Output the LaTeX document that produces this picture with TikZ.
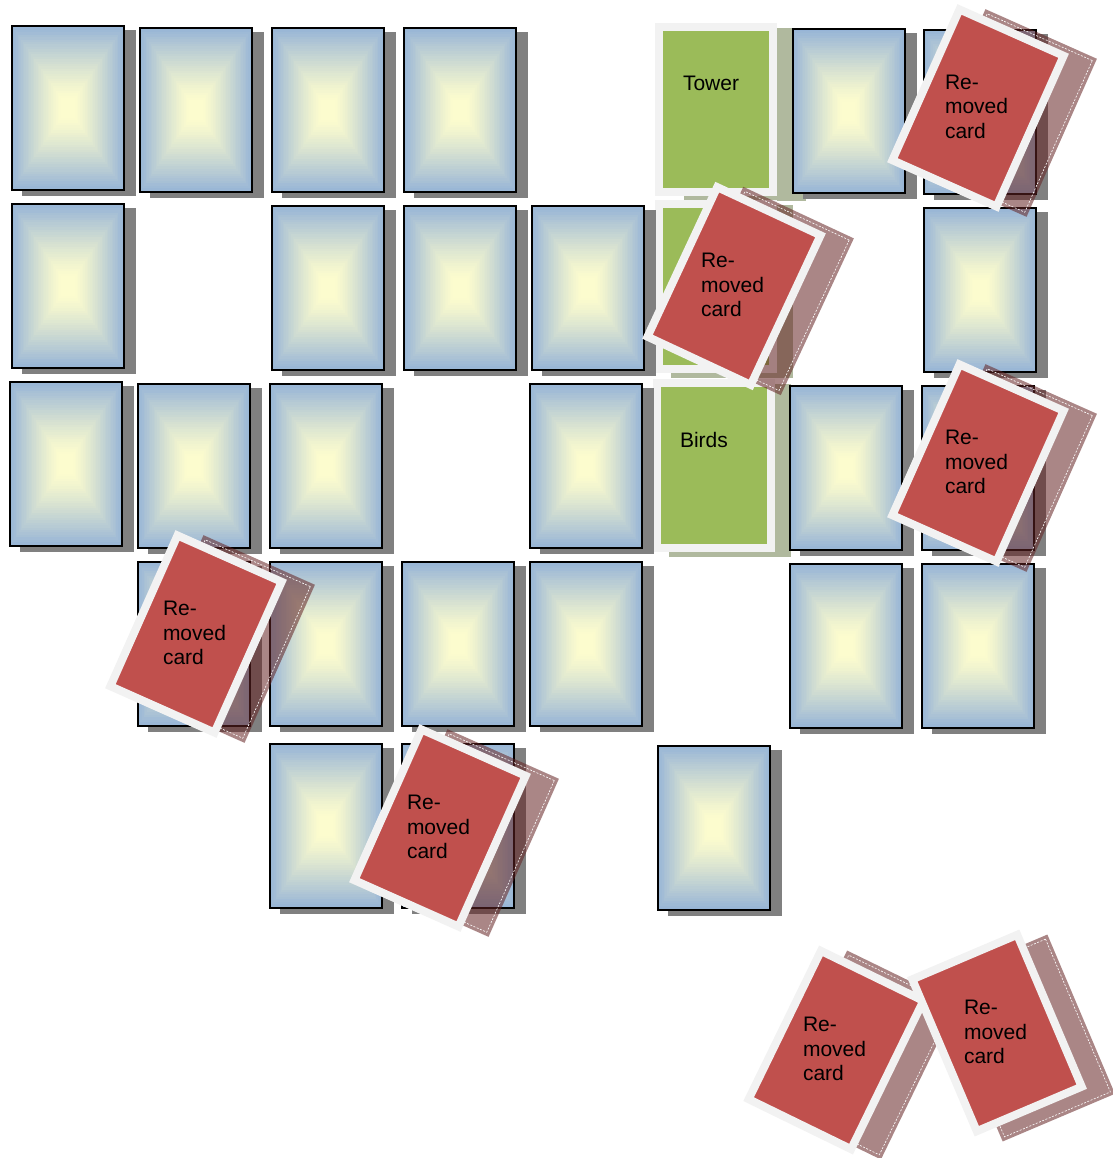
\documentclass[tikz,border=0pt]{standalone}
\usepackage{fontspec}
\setmainfont{Liberation Sans}
\definecolor{cardblue}{RGB}{149,179,215}
\definecolor{cardyellow}{RGB}{252,252,206}
\definecolor{shadowgray}{RGB}{128,128,128}
\definecolor{cardred}{RGB}{192,80,77}
\definecolor{cardgreen}{RGB}{155,187,89}
\definecolor{rimwhite}{RGB}{242,242,242}
\definecolor{redshade}{RGB}{100,35,35}
\definecolor{greenshade}{RGB}{80,100,40}
\tikzset{
  bluecard/.style={minimum width=112pt, minimum height=164pt, inner sep=0pt, outer sep=0pt,
    draw=black, line width=2pt, fill=cardblue,
    path picture={
      \begin{scope}[shift={(path picture bounding box.center)}]
        \foreach \i in {0,...,30}{
          \pgfmathsetmacro{\s}{1-\i*0.88/30}
          \pgfmathtruncatemacro{\p}{100*((\s-0.12)/0.88)^1.25}
          \fill[cardblue!\p!cardyellow] (-57*\s,-83*\s) rectangle (57*\s,83*\s);
        }
      \end{scope}
    }},
  blueshadow/.style={fill=shadowgray, draw=none, minimum width=114pt, minimum height=166pt, inner sep=0pt, outer sep=0pt},
  redcard/.style={fill=cardred, draw=rimwhite, line width=8pt, minimum width=114pt, minimum height=165pt, inner sep=0pt, outer sep=0pt},
  greencard/.style={fill=cardgreen, draw=rimwhite, line width=8pt, minimum width=114pt, minimum height=165pt, inner sep=0pt, outer sep=0pt},
  redshadow/.style={fill=redshade, fill opacity=0.55, draw=none, minimum width=122pt, minimum height=173pt, inner sep=0pt, outer sep=0pt},
  greenshadow/.style={fill=greenshade, fill opacity=0.45, draw=none, minimum width=122pt, minimum height=173pt, inner sep=0pt, outer sep=0pt},
  shadowdash/.style={draw=white, line width=0.6pt, dash pattern=on 2pt off 1.5pt, minimum width=115pt, minimum height=166pt, inner sep=0pt, outer sep=0pt},
  cardtext/.style={anchor=base west, align=left, inner sep=0pt, outer sep=0pt, text=black, font=\fontsize{21}{24.5}\selectfont},
}
\newcommand\bluecardat[3]{%
  \node[blueshadow, xshift=11pt, yshift=-5pt] (#1s) at (#2,#3) {};
  \node[bluecard] (#1) at (#2,#3) {};}
\newcommand\greencardat[4]{%
  \node[greenshadow, xshift=#4pt, yshift=-5pt] (#1s) at (#2,#3) {};
  \node[greencard] (#1) at (#2,#3) {};}
\newcommand\redshadowat[4]{%
  \node[redshadow, xshift=28pt, yshift=-5pt, rotate=#4] (#1s) at (#2,#3) {};
  \node[shadowdash, xshift=28pt, yshift=-5pt, rotate=#4] (#1d) at (#2,#3) {};}
\newcommand\redcardat[4]{%
  \node[redcard, rotate=#4] (#1) at (#2,#3) {};
  \node[cardtext] (#1t) at (#2-33,#3+30.5) {Re-\\moved\\card};}
\begin{document}
\begin{tikzpicture}[x=1pt,y=-1pt]
\useasboundingbox (0,0) rectangle (1112,1158);
% green cards
\greencardat{tower}{716}{109.5}{29}
\greencardat{gmid}{716}{286.5}{16}
\greencardat{birds}{714}{465.5}{16}
\node[cardtext] (towert) at (683,91) {Tower};
\node[cardtext] (birdst) at (680,447) {Birds};
% blue cards
\bluecardat{b11}{68}{108}
\bluecardat{b12}{196}{110}
\bluecardat{b13}{328}{110}
\bluecardat{b14}{460}{110}
\bluecardat{b16}{848.5}{111.5}
\bluecardat{b17}{980}{112}
\bluecardat{b21}{68}{286}
\bluecardat{b23}{328}{288}
\bluecardat{b24}{460}{288}
\bluecardat{b25}{588}{288}
\bluecardat{b27}{980}{290}
\bluecardat{b31}{66}{464}
\bluecardat{b32}{194}{466}
\bluecardat{b33}{326}{466}
\bluecardat{b35}{586}{466}
\bluecardat{b36}{846}{468}
\bluecardat{b37}{978}{468}
\bluecardat{b42}{194}{644}
\bluecardat{b43}{326}{644}
\bluecardat{b44}{458}{644}
\bluecardat{b45}{586}{644}
\bluecardat{b46}{846}{646}
\bluecardat{b47}{978}{646}
\bluecardat{b53}{326}{826}
\bluecardat{b54}{458}{825.5}
\bluecardat{b56}{714}{827.5}
% removed cards
\redshadowat{r1}{978}{108}{-24}
\redcardat{r1}{978}{108}{-24}
\redshadowat{r2}{734}{286}{-25}
\redcardat{r2}{734}{286}{-25}
\redshadowat{r3}{978}{463}{-24}
\redcardat{r3}{978}{463}{-24}
\redshadowat{r4}{196}{634}{-24}
\redcardat{r4}{196}{634}{-24}
\redshadowat{r5}{440}{828}{-24}
\redcardat{r5}{440}{828}{-24}
\redshadowat{r6}{836}{1050}{-26}
\redcardat{r6}{836}{1050}{-26}
\redshadowat{r7}{997}{1033}{23}
\redcardat{r7}{997}{1033}{23}
\end{tikzpicture}
\end{document}
